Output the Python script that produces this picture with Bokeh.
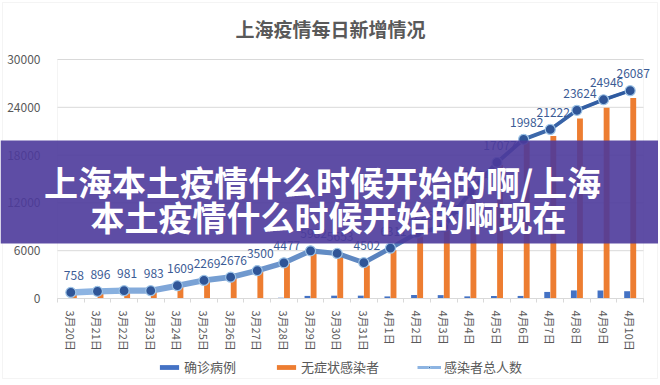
from bokeh.plotting import figure
from bokeh.models import (Range1d, Label, BoxAnnotation, Legend, LegendItem,
                          ColumnDataSource, FixedTicker, NumeralTickFormatter)
from bokeh.transform import dodge
from bokeh.core.properties import value
from bokeh.embed import file_html
from bokeh.resources import INLINE

# ---------------- data ----------------
dates = ["3月20日", "3月21日", "3月22日", "3月23日", "3月24日", "3月25日", "3月26日",
         "3月27日", "3月28日", "3月29日", "3月30日", "3月31日", "4月1日", "4月2日",
         "4月3日", "4月4日", "4月5日", "4月6日", "4月7日", "4月8日", "4月9日", "4月10日"]
confirmed = [24, 31, 4, 4, 29, 38, 45, 50, 96, 326, 355, 358, 260, 438, 425, 268,
             311, 322, 824, 1015, 1006, 914]
asymptomatic = [734, 865, 977, 979, 1580, 2231, 2631, 3450, 4381, 5656, 5298, 4144,
                6051, 7788, 8581, 13086, 16766, 19660, 20398, 22609, 23937, 25173]
totals = [758, 896, 981, 983, 1609, 2269, 2676, 3500, 4477, 5982, 5653, 4502, 6311,
          8226, 9006, 13354, 17077, 19982, 21222, 23624, 24946, 26087]
y_ticks = [0, 6000, 12000, 18000, 24000, 30000]

title_text = "上海疫情每日新增情况"
banner_line1 = "上海本土疫情什么时候开始的啊/上海"
banner_line2 = "本土疫情什么时候开始的啊现在"
legend_names = ["确诊病例", "无症状感染者", "感染者总人数"]

FONT = "Noto Sans CJK SC"
GRAY = "#595959"
LIGHT = "#D9D9D9"
BLUE = "#4472C4"
ORANGE = "#ED7D31"

W, H = 658, 380
# plot-area placement in canvas pixels
PL, PR, PT, PB = 57, 643, 59, 298
ncat = len(dates)
ymax = y_ticks[-1]
px_per_x = (PR - PL) / ncat
px_per_y = (PB - PT) / ymax
x_lo = -0.5 - PL / px_per_x
x_hi = ncat - 0.5 + (W - PR) / px_per_x
y_lo = -(H - PB) / px_per_y
y_hi = ymax + PT / px_per_y

xpos = list(range(ncat))
src = ColumnDataSource(dict(x=xpos, confirmed=confirmed, asym=asymptomatic,
                            total=totals, label=[str(v) for v in totals]))

p = figure(x_range=Range1d(x_lo, x_hi), y_range=Range1d(y_lo, y_hi), width=W, height=H,
           output_backend="svg", toolbar_location=None,
           min_border_left=0, min_border_right=0, min_border_top=0, min_border_bottom=0)
p.title.visible = False
p.background_fill_color = "white"
p.border_fill_color = "white"
p.outline_line_color = None
p.xgrid.visible = False
p.ygrid.visible = False

# outer frame of the picture
p.add_layout(BoxAnnotation(left=2, right=W - 1, bottom=2, top=H - 2,
                           left_units="screen", right_units="screen",
                           bottom_units="screen", top_units="screen",
                           fill_alpha=0, line_color=LIGHT, line_width=1, level="underlay"))

# horizontal gridlines
p.segment(x0=[-0.5] * len(y_ticks), x1=[ncat - 0.5] * len(y_ticks), y0=y_ticks, y1=y_ticks,
          line_color=LIGHT, line_width=1, level="underlay")
# plot-area outline
p.add_layout(BoxAnnotation(left=-0.5, right=ncat - 0.5, bottom=0, top=ymax,
                           fill_alpha=0, line_color=LIGHT, line_width=1, level="underlay"))

# bars
r_conf = p.vbar(x=dodge("x", -0.115), top="confirmed", width=0.22,
                source=src, fill_color=BLUE, line_color=None)
r_asym = p.vbar(x=dodge("x", 0.115), top="asym", width=0.22,
                source=src, fill_color=ORANGE, line_color=None)

# total line: a base line (used for the legend) + gradient segments on top
r_base = p.line(x="x", y="total", source=src, line_color="#8DB4E2", line_width=3)
n = ncat - 1
c0 = (141, 180, 226)
c1 = (46, 90, 160)
seg_colors, seg_widths = [], []
for i in range(n):
    t = i / (n - 1)
    rgb = tuple(int(round(c0[k] + (c1[k] - c0[k]) * t)) for k in range(3))
    seg_colors.append("#%02x%02x%02x" % rgb)
    seg_widths.append(6.5 - 3.0 * t)
seg_src = ColumnDataSource(dict(x0=xpos[:-1], x1=xpos[1:], y0=totals[:-1], y1=totals[1:],
                                color=seg_colors, w=seg_widths))
p.segment(x0="x0", y0="y0", x1="x1", y1="y1", source=seg_src,
          line_color="color", line_width="w", line_cap="round")
r_pts = p.scatter(x="x", y="total", source=src, size=10, marker="circle",
                  fill_color="#2F5597", line_color="#9DC3E6", line_width=1.2)

# data labels
p.text(x="x", y="total", text="label", source=src, x_offset=3, y_offset=-17,
       text_align="center", text_baseline="middle", text_font_size="12px",
       text_color="#3B5B95", text_font=value(FONT))

# axes (fixed inside the canvas)
p.yaxis.fixed_location = -0.5
p.yaxis.bounds = (0, ymax)
p.yaxis.ticker = FixedTicker(ticks=y_ticks)
p.yaxis.formatter = NumeralTickFormatter(format="0")
p.yaxis.axis_line_color = None
p.yaxis.major_tick_line_color = None
p.yaxis.minor_tick_line_color = None
p.yaxis.major_label_standoff = 11
p.yaxis.major_label_text_font = FONT
p.yaxis.major_label_text_font_size = "12px"
p.yaxis.major_label_text_color = GRAY

p.xaxis.fixed_location = 0
p.xaxis.bounds = (-0.5, ncat - 0.5)
p.xaxis.ticker = FixedTicker(ticks=xpos, minor_ticks=[i - 0.5 for i in range(ncat + 1)])
p.xaxis.major_label_overrides = {i: d for i, d in zip(xpos, dates)}
p.xaxis.axis_line_color = LIGHT
p.xaxis.major_tick_line_color = None
p.xaxis.minor_tick_line_color = LIGHT
p.xaxis.minor_tick_in = 0
p.xaxis.minor_tick_out = 4
p.xaxis.major_label_orientation = "vertical"
p.xaxis.major_label_standoff = 6
p.xaxis.major_label_text_font = FONT
p.xaxis.major_label_text_font_size = "11px"
p.xaxis.major_label_text_color = GRAY

# legend at the bottom
legend = Legend(items=[LegendItem(label=legend_names[0], renderers=[r_conf]),
                       LegendItem(label=legend_names[1], renderers=[r_asym]),
                       LegendItem(label=legend_names[2], renderers=[r_base, r_pts])],
                orientation="horizontal", location=(157, 4),
                glyph_width=24, glyph_height=6, label_standoff=3, spacing=38,
                padding=0, margin=0, border_line_color=None, background_fill_alpha=0,
                label_text_font=FONT, label_text_font_size="13px", label_text_color=GRAY)
p.add_layout(legend, "center")

# title
p.add_layout(Label(x=330, y=H - 28, x_units="screen", y_units="screen", text=title_text,
                   text_align="center", text_baseline="middle", text_font=FONT,
                   text_font_size="19px", text_font_style="bold", text_color=GRAY))

# purple banner overlay
p.add_layout(BoxAnnotation(left=0, right=W, bottom=H - 243, top=H - 140,
                           left_units="screen", right_units="screen",
                           bottom_units="screen", top_units="screen",
                           fill_color="#4D3A9B", fill_alpha=0.9, line_color=None))
p.add_layout(Label(x=322, y=H - 181, x_units="screen", y_units="screen", text=banner_line1,
                   text_align="center", text_baseline="middle", text_font=FONT,
                   text_font_size="34px", text_font_style="bold", text_color="white"))
p.add_layout(Label(x=328, y=H - 216, x_units="screen", y_units="screen", text=banner_line2,
                   text_align="center", text_baseline="middle", text_font=FONT,
                   text_font_size="34px", text_font_style="bold", text_color="white"))

open("out.html", "w").write(file_html(p, INLINE))
